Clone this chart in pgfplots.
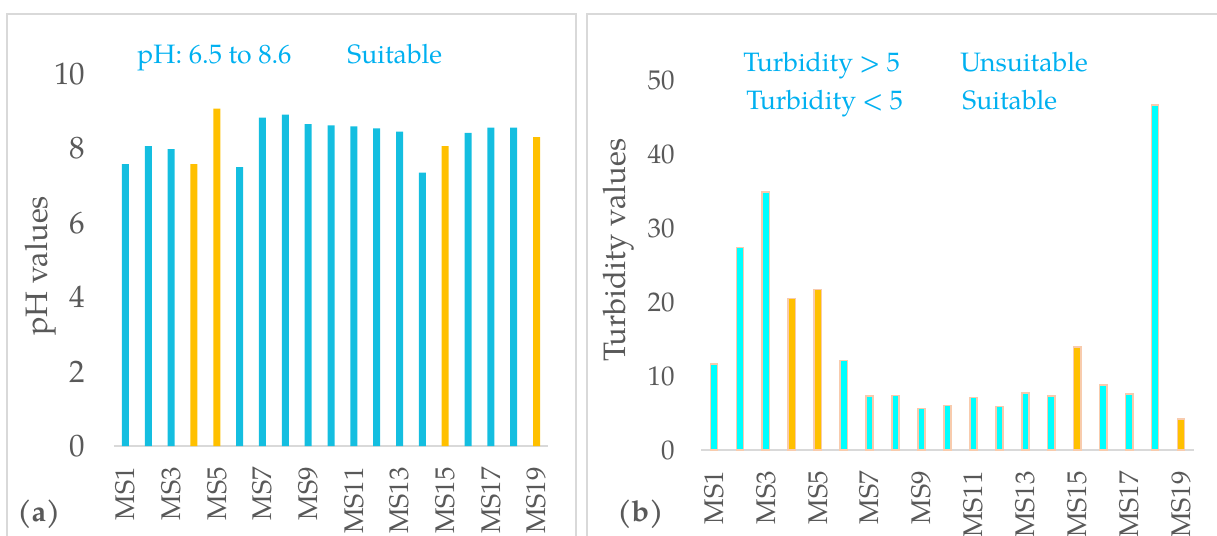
\documentclass[border=0pt]{standalone}
\usepackage{fontspec}
\setmainfont{texgyrepagella}[Extension=.otf, UprightFont=*-regular,
  BoldFont=*-bold, ItalicFont=*-italic, BoldItalicFont=*-bolditalic]
\usepackage{pgfplots}
\pgfplotsset{compat=1.18}

\definecolor{phblue}{RGB}{20,190,224}
\definecolor{gold}{RGB}{255,192,0}
\definecolor{aqua}{RGB}{0,255,255}
\definecolor{peach}{RGB}{248,203,173}
\definecolor{note}{RGB}{0,176,240}
\definecolor{lbl}{RGB}{89,89,89}
\definecolor{framegray}{RGB}{217,217,217}

\pgfplotsset{
  panel/.style={
    scale only axis,
    /pgf/number format/assume math mode=true,
    xmin=0.5, xmax=19.5, ymin=0,
    separate axis lines,
    axis x line*=bottom, axis y line*=left,
    x axis line style={draw=framegray, line width=1.1pt, -},
    y axis line style={draw=none},
    xtick style={draw=none}, ytick style={draw=none},
    xtick={1,3,...,19},
    xticklabels={MS1,MS3,MS5,MS7,MS9,MS11,MS13,MS15,MS17,MS19},
    % shift is taken in the rotated frame: negative x moves the label down
    x tick label style={rotate=90, anchor=east, xshift=-7pt,
      text=lbl, font=\fontsize{13.5}{16}\selectfont},
    ylabel style={text=lbl, font=\fontsize{15.5}{18}\selectfont, anchor=center},
  },
}

\begin{document}
\begin{tikzpicture}
\useasboundingbox (0,0) rectangle (608.5pt,-268pt);

% chart frames
\draw[framegray, line width=1pt] (3.5pt,-7pt) rectangle (288pt,-300pt);
\draw[framegray, line width=1pt] (293.5pt,-7pt) rectangle (650pt,-300pt);

% (a) pH
\begin{axis}[panel,
  at={(57pt,-223pt)}, anchor=south west,
  width=217pt, height=186pt,
  ymax=10, ytick={0,2,...,10},
  y tick label style={xshift=-10.8pt, text=lbl, font=\fontsize{15.5}{18}\selectfont},
  ylabel={pH values},
  ylabel style={at={(axis description cs:-0.17,0.484)}},
]
\addplot[ybar, bar width=3.5pt, bar shift=0pt, fill=phblue, draw=none]
  coordinates {(1,7.58) (2,8.06) (3,7.98) (6,7.50) (7,8.83) (8,8.91) (9,8.65)
    (10,8.62) (11,8.59) (12,8.54) (13,8.45) (14,7.35) (16,8.42) (17,8.56) (18,8.56)};
\addplot[ybar, bar width=3.5pt, bar shift=0pt, fill=gold, draw=none]
  coordinates {(4,7.58) (5,9.07) (15,8.06) (19,8.30)};
\end{axis}

% (b) turbidity
\begin{axis}[panel,
  at={(350.5pt,-225pt)}, anchor=south west,
  width=246.5pt, height=184.75pt,
  ymax=50, ytick={0,10,...,50},
  y tick label style={xshift=-9.7pt, text=lbl, font=\fontsize{13.5}{16}\selectfont},
  ylabel={Turbidity values},
  ylabel style={at={(axis description cs:-0.168,0.541)}},
]
\addplot[ybar, bar width=3.6pt, bar shift=0pt, fill=aqua, draw=peach, line width=0.8pt]
  coordinates {(1,11.6) (2,27.4) (3,34.9) (6,12.1) (7,7.3) (8,7.4) (9,5.6)
    (10,6.0) (11,7.1) (12,5.9) (13,7.7) (14,7.3) (16,8.8) (17,7.6) (18,46.7)};
\addplot[ybar, bar width=3.6pt, bar shift=0pt, fill=gold, draw=peach, line width=0.8pt]
  coordinates {(4,20.5) (5,21.7) (15,13.9) (19,4.2)};
\end{axis}

% notes
\begin{scope}[every node/.style={anchor=base west, inner sep=0pt, text=note,
    font=\fontsize{13.3}{15}\selectfont}]
\node at (68.5pt,-31.5pt) {pH: 6.5 to 8.6};
\node at (173.5pt,-31.5pt) {Suitable};
\node at (371.5pt,-35.5pt) {Turbidity > 5};
\node at (480pt,-35.5pt) {Unsuitable};
\node at (373pt,-54.5pt) {Turbidity < 5};
\node at (481pt,-54.5pt) {Suitable};
\end{scope}

% panel tags
\node[anchor=west, inner sep=0pt, text=lbl, font=\fontsize{14.5}{17}\selectfont\bfseries]
  at (8.5pt,-257pt) {(a)};
\node[anchor=west, inner sep=0pt, text=lbl, font=\fontsize{14.5}{17}\selectfont\bfseries]
  at (308.5pt,-257pt) {(b)};
\end{tikzpicture}
\end{document}
